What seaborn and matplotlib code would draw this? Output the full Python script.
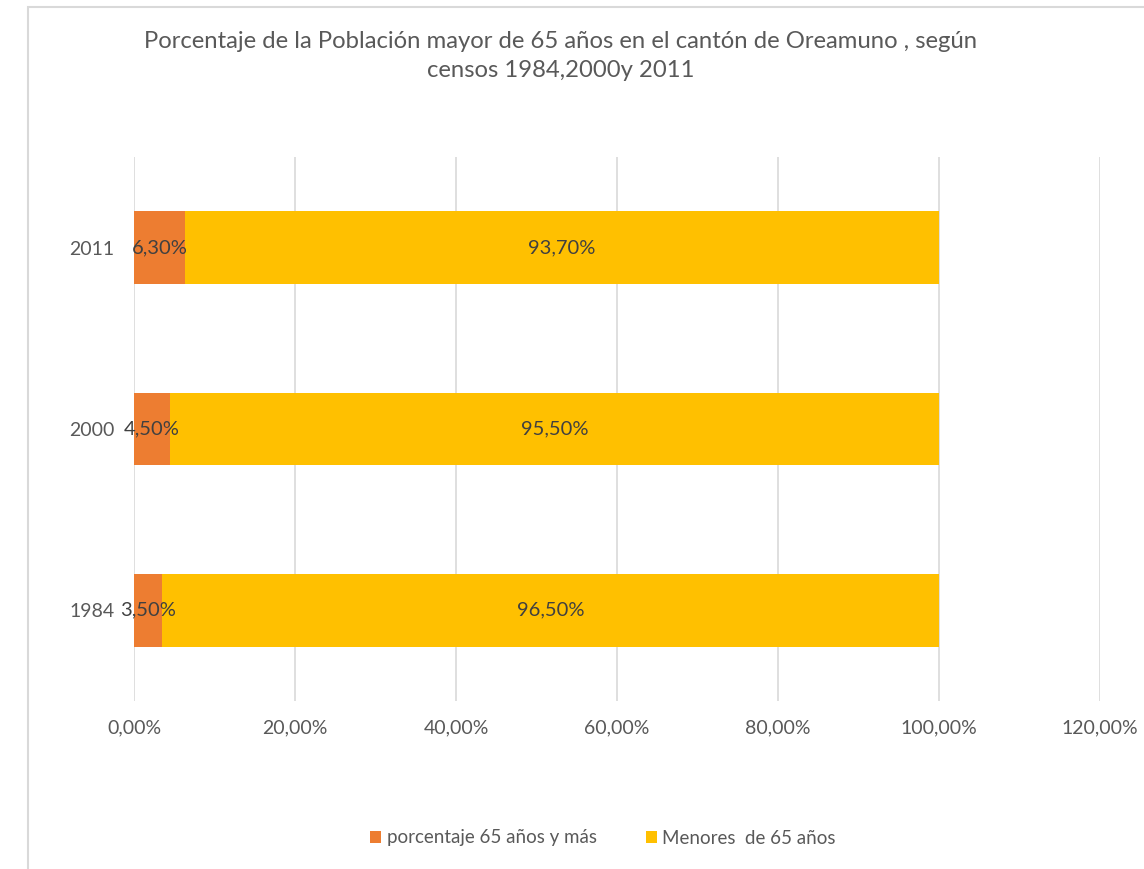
import matplotlib
matplotlib.use("Agg")
import matplotlib.pyplot as plt
import seaborn as sns
import pandas as pd
from matplotlib.patches import Rectangle, Patch
from matplotlib.ticker import FuncFormatter

years = ["2011", "2000", "1984"]
mayores = [6.3, 4.5, 3.5]
menores = [93.7, 95.5, 96.5]
series_names = ["porcentaje 65 años y más", "Menores  de 65 años"]
title = "Porcentaje de la Población mayor de 65 años en el cantón de Oreamuno , según\ncensos 1984,2000y 2011"
xticks = [0, 20, 40, 60, 80, 100, 120]

ORANGE = "#ED7D31"
YELLOW = "#FFC000"
GRAY = "#595959"

sns.set_theme(style="white")
plt.rcParams["font.family"] = ["Lato", "DejaVu Sans"]

fig = plt.figure(figsize=(11.44, 8.69), dpi=100)
ax = fig.add_axes([134/1144, 1-701/869, (1100-134)/1144, (701-157)/869])

df = pd.DataFrame({"year": years, "mayores": mayores, "menores": menores})
df["total"] = df["mayores"] + df["menores"]

sns.barplot(data=df, y="year", x="total", order=years, color=YELLOW,
            orient="h", width=0.4, ax=ax, saturation=1, linewidth=0)
sns.barplot(data=df, y="year", x="mayores", order=years, color=ORANGE,
            orient="h", width=0.4, ax=ax, saturation=1, linewidth=0)

ax.set_xlim(0, 120)
ax.set_xticks(xticks)
ax.xaxis.set_major_formatter(FuncFormatter(lambda v, p: f"{v:.2f}%".replace(".", ",")))
ax.grid(axis="x", color="#D9D9D9", linewidth=1.2)
ax.set_axisbelow(True)
for s in ax.spines.values():
    s.set_visible(False)
ax.set_xlabel("")
ax.set_ylabel("")
ax.tick_params(axis="x", colors=GRAY, labelsize=14, length=0, pad=13)
ax.tick_params(axis="y", colors=GRAY, labelsize=14, length=0, pad=14)

for i, (a, b) in enumerate(zip(mayores, menores)):
    ax.text(a/2, i, f"{a:.2f}%".replace(".", ","), ha="center", va="center",
            color="#404040", fontsize=14.5)
    ax.text(a + b/2, i, f"{b:.2f}%".replace(".", ","), ha="center", va="center",
            color="#404040", fontsize=14.5)

fig.text(561/1144, 1-56/869, title, ha="center", va="center", color=GRAY,
         fontsize=17.2, linespacing=1.42)

handles = [Patch(facecolor=ORANGE, edgecolor="none"), Patch(facecolor=YELLOW, edgecolor="none")]
fig.legend(handles, series_names, loc="center", bbox_to_anchor=(603/1144, 1-838/869),
           ncol=2, frameon=False, fontsize=13.5, labelcolor=GRAY,
           handlelength=0.6, handleheight=0.6, handletextpad=0.3, columnspacing=2.6)

fig.patches.append(Rectangle((28/1144, -0.05), 1.2, 1-7/869+0.05, transform=fig.transFigure,
                             fill=False, edgecolor="#D9D9D9", linewidth=1.5, zorder=0))

fig.savefig("out.png", dpi=100)
